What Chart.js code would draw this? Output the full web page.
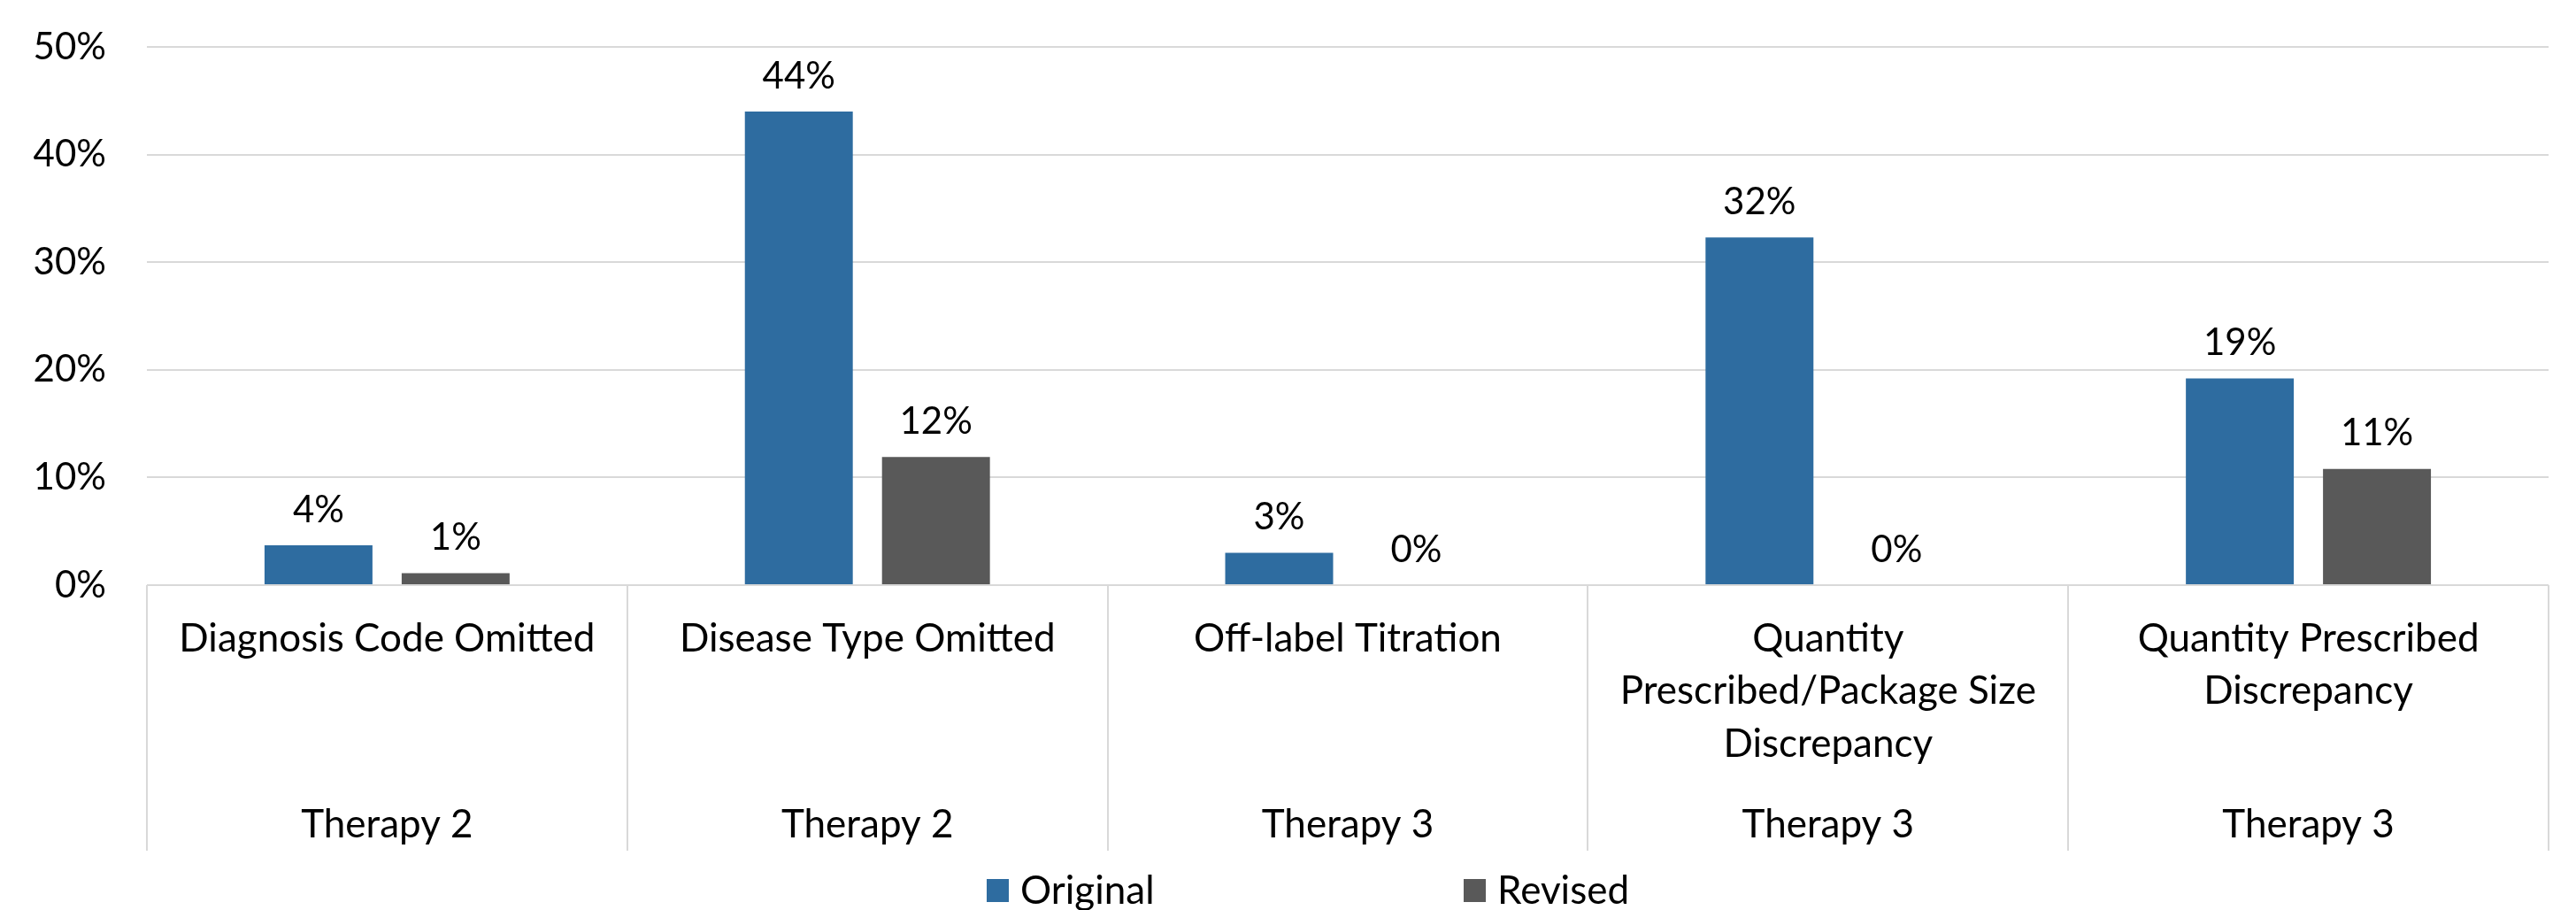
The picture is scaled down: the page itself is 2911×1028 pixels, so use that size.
<!DOCTYPE html>
<html>
<head>
<meta charset="utf-8">
<script src="https://cdn.jsdelivr.net/npm/chart.js@4.4.1/dist/chart.umd.min.js"></script>
<style>
  html, body { margin: 0; padding: 0; background: #fff; }
</style>
</head>
<body>
<canvas id="chart" width="2911" height="1028"></canvas>
<script>
// Données du graphique
const categories = [
    ['Diagnosis Code Omitted'],
    ['Disease Type Omitted'],
    ['Off-label Titration'],
    ['Quantity', 'Prescribed/Package Size', 'Discrepancy'],
    ['Quantity Prescribed', 'Discrepancy']
];
const therapies = ['Therapy 2', 'Therapy 2', 'Therapy 3', 'Therapy 3', 'Therapy 3'];
const originalValues = [0.037, 0.440, 0.030, 0.323, 0.192];
const revisedValues = [0.011, 0.119, 0, 0, 0.108];
const yTicks = [0, 0.1, 0.2, 0.3, 0.4, 0.5];
const seriesNames = ['Original', 'Revised'];
const seriesColors = ['#2E6CA0', '#595959'];

const FONT_FAMILY = 'Lato';
const TEXT_SIZE = 44;   // libellés texte
const NUM_SIZE = 42;    // pourcentages
const GRID = '#d9d9d9';

const pct = v => Math.round(v * 100) + '%';

/**
 * Étiquettes de valeurs, ligne "Therapy", séparateurs et légende
 */
const annotate = {
    id: 'annotate',
    afterDatasetsDraw(chart) {
        const ctx = chart.ctx;
        ctx.save();
        ctx.font = NUM_SIZE + 'px ' + FONT_FAMILY;
        ctx.fillStyle = '#000';
        ctx.textAlign = 'center';
        ctx.textBaseline = 'middle';
        chart.data.datasets.forEach((ds, di) => {
            chart.getDatasetMeta(di).data.forEach((bar, i) => {
                ctx.fillText(pct(ds.data[i]), bar.x, bar.y - 40);
            });
        });
        ctx.restore();
    },
    afterDraw(chart) {
        const ctx = chart.ctx;
        const x = chart.scales.x;
        const top = chart.chartArea.bottom;
        const bottom = x.bottom;

        ctx.save();
        // séparateurs des catégories
        ctx.strokeStyle = GRID;
        ctx.lineWidth = 2;
        for (let i = 0; i <= categories.length; i++) {
            const px = Math.round(x.getPixelForValue(i - 0.5));
            ctx.beginPath();
            ctx.moveTo(px, top);
            ctx.lineTo(px, bottom);
            ctx.stroke();
        }

        // second niveau d'axe
        ctx.font = TEXT_SIZE + 'px ' + FONT_FAMILY;
        ctx.fillStyle = '#000';
        ctx.textAlign = 'center';
        ctx.textBaseline = 'middle';
        therapies.forEach((t, i) => {
            ctx.fillText(t, x.getPixelForValue(i), top + 271);
        });

        // légende
        ctx.textAlign = 'left';
        chart.data.datasets.forEach((ds, di) => {
            const bx = 1115 + di * 539;
            ctx.fillStyle = ds.backgroundColor;
            ctx.fillRect(bx, 993, 25, 26);
            ctx.fillStyle = '#000';
            ctx.fillText(ds.label, bx + 38, 1007);
        });
        ctx.restore();
    }
};

new Chart(document.getElementById('chart'), {
    type: 'bar',
    data: {
        labels: categories,
        datasets: [{
            label: seriesNames[0],
            data: originalValues,
            backgroundColor: seriesColors[0],
            categoryPercentage: 0.571,
            barPercentage: 0.787
        }, {
            label: seriesNames[1],
            data: revisedValues,
            backgroundColor: seriesColors[1],
            categoryPercentage: 0.571,
            barPercentage: 0.787
        }]
    },
    options: {
        responsive: false,
        animation: false,
        devicePixelRatio: 1,
        layout: {
            padding: { left: 0, right: 31, top: 53, bottom: 67 }
        },
        plugins: {
            legend: { display: false },
            tooltip: { enabled: false }
        },
        scales: {
            y: {
                min: 0,
                max: 0.5,
                afterBuildTicks: scale => {
                    scale.ticks = yTicks.map(v => ({ value: v }));
                },
                afterFit: scale => {
                    scale.width = 166;
                },
                ticks: {
                    padding: 0,
                    color: '#000',
                    font: { family: FONT_FAMILY, size: NUM_SIZE },
                    callback: v => pct(v)
                },
                grid: {
                    color: GRID,
                    lineWidth: 2,
                    drawTicks: true,
                    tickLength: 46,
                    tickColor: 'rgba(0,0,0,0)'
                },
                border: { display: false }
            },
            x: {
                afterFit: scale => {
                    scale.height = 300;
                },
                ticks: {
                    padding: 31,
                    color: '#000',
                    autoSkip: false,
                    maxRotation: 0,
                    font: { family: FONT_FAMILY, size: TEXT_SIZE, lineHeight: 1.352 }
                },
                grid: {
                    display: false,
                    drawTicks: false
                },
                border: { display: false }
            }
        }
    },
    plugins: [annotate]
});
</script>
</body>
</html>
